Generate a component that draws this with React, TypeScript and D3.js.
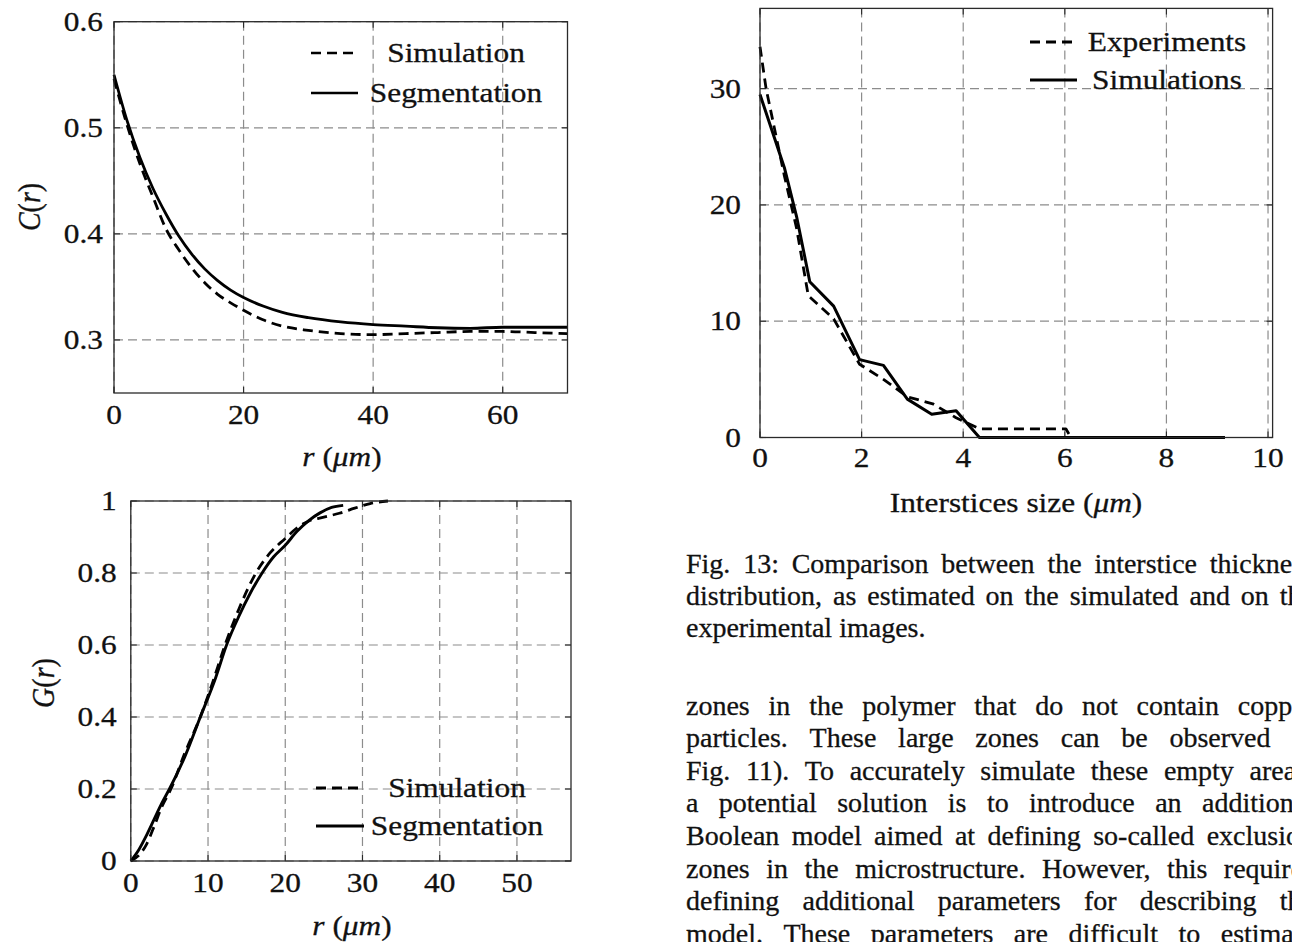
import React, { useEffect, useRef } from 'react';
import * as d3 from 'd3';

// ---------- Two-point correlation C(r) ----------
const corrR = [0, 2, 4, 6, 8, 10, 12, 14, 16, 18, 20, 23, 26, 30, 35, 40, 45, 50, 55, 60, 65, 70];
const corrSimulation = [0.546, 0.503, 0.466, 0.435, 0.405, 0.385, 0.368, 0.354, 0.343, 0.335, 0.328, 0.319, 0.313, 0.309, 0.306, 0.305, 0.306, 0.307, 0.308, 0.308, 0.307, 0.306];
const corrSegmentation = [0.550, 0.507, 0.472, 0.443, 0.419, 0.398, 0.381, 0.367, 0.356, 0.347, 0.340, 0.332, 0.326, 0.321, 0.317, 0.3145, 0.313, 0.3115, 0.311, 0.312, 0.312, 0.312];
const corrXTicks = [0, 20, 40, 60];
const corrYTicks = [0.3, 0.4, 0.5, 0.6];

// ---------- Granulometry G(r) ----------
const gSimR = [0, 1, 2, 3, 4, 5.2, 7, 9, 10.5, 12.2, 14, 16.2, 18, 20, 21.5, 23, 25, 27, 29, 31, 33.3];
const gSim = [0, 0.015, 0.045, 0.095, 0.15, 0.2, 0.3, 0.4, 0.49, 0.6, 0.7, 0.8, 0.855, 0.896, 0.925, 0.944, 0.955, 0.966, 0.98, 0.993, 1.0];
const gSegR = [0, 1, 2, 3, 4, 5, 7, 9, 11, 12.4, 14, 15.5, 17, 18.5, 20, 21.5, 23, 24.5, 26, 27.5];
const gSeg = [0, 0.03, 0.07, 0.115, 0.16, 0.2, 0.29, 0.4, 0.51, 0.6, 0.68, 0.745, 0.8, 0.845, 0.877, 0.915, 0.945, 0.967, 0.982, 0.988];
const gXTicks = [0, 10, 20, 30, 40, 50];
const gYTicks = [0, 0.2, 0.4, 0.6, 0.8, 1];

// ---------- Interstice size distribution ----------
const intExpX = [0, 0.12, 0.48, 0.72, 0.95, 1.45, 1.96, 2.43, 2.9, 3.4, 3.86, 4.32, 6.02, 6.12, 9.15];
const intExp = [33.6, 30, 22.5, 18.0, 12.2, 10.2, 6.3, 5.0, 3.5, 2.9, 1.7, 0.75, 0.75, 0, 0];
const intSimX = [0, 0.48, 0.72, 0.98, 1.45, 1.96, 2.43, 2.9, 3.38, 3.86, 4.32, 9.15];
const intSim = [29.5, 23.2, 19.0, 13.4, 11.3, 6.7, 6.2, 3.3, 2.0, 2.3, 0, 0];
const intXTicks = [0, 2, 4, 6, 8, 10];
const intYTicks = [0, 10, 20, 30];

// ---------- Text ----------
const captionLines = [
  'Fig. 13: Comparison between the interstice thickness',
  'distribution, as estimated on the simulated and on the',
  'experimental images.',
];
const bodyLines = [
  'zones in the polymer that do not contain copper',
  'particles. These large zones can be observed in',
  'Fig. 11). To accurately simulate these empty areas,',
  'a potential solution is to introduce an additional',
  'Boolean model aimed at defining so-called exclusion',
  'zones in the microstructure. However, this requires',
  'defining additional parameters for describing the',
  'model. These parameters are difficult to estimate',
];

const FONT = "'Liberation Serif', 'Times New Roman', Times, serif";
const GRID = '#8c8c8c';
const FRAME = '#2a2a2a';
const TXT = '#111';
const FS = 28;
const SX = 1.12;

function SText({ x, y, anchor, rotate, children }: { x: number; y: number; anchor: 'start' | 'middle' | 'end'; rotate?: boolean; children: React.ReactNode }) {
  const tf = rotate ? `translate(${x},${y}) rotate(-90) scale(1,${SX})` : `translate(${x},${y}) scale(${SX},1)`;
  return (
    <text transform={tf} dy="0.33em" textAnchor={anchor} fontSize={FS} fontFamily={FONT} fill={TXT} stroke={TXT} strokeWidth={0.3}>
      {children}
    </text>
  );
}

type Box = { l: number; r: number; t: number; b: number };
type Series = { xs: number[]; ys: number[]; dashed: boolean; width: number; curve: d3.CurveFactory };
type Legend = { labels: string[]; cx: number; rows: number[]; s0: number; s1: number; dashed: boolean[]; width: number };

function Panel(props: {
  box: Box;
  xDomain: [number, number];
  yDomain: [number, number];
  xTicks: number[];
  yTicks: number[];
  fmtY: (v: number) => string;
  series: Series[];
  legend: Legend;
  yGap: number;
  xTickY: number;
  children?: React.ReactNode;
}) {
  const { box, xDomain, yDomain, xTicks, yTicks, fmtY, series, legend, yGap, xTickY } = props;
  const x = d3.scaleLinear().domain(xDomain).range([box.l, box.r]);
  const y = d3.scaleLinear().domain(yDomain).range([box.b, box.t]);
  const mk = (s: Series) =>
    d3
      .line<number>()
      .x((_, i) => x(s.xs[i]))
      .y((d) => y(d))
      .curve(s.curve)(s.ys) || '';
  return (
    <g>
      {xTicks.map((t) => (
        <line key={'gx' + t} x1={x(t)} x2={x(t)} y1={box.t} y2={box.b} stroke={GRID} strokeWidth={1.2} strokeDasharray="9 5" />
      ))}
      {yTicks.map((t) => (
        <line key={'gy' + t} x1={box.l} x2={box.r} y1={y(t)} y2={y(t)} stroke={GRID} strokeWidth={1.2} strokeDasharray="9 5" />
      ))}
      {xTicks.map((t) => (
        <g key={'tx' + t}>
          <line x1={x(t)} x2={x(t)} y1={box.b} y2={box.b - 6} stroke={FRAME} strokeWidth={1.1} />
          <line x1={x(t)} x2={x(t)} y1={box.t} y2={box.t + 6} stroke={FRAME} strokeWidth={1.1} />
        </g>
      ))}
      {yTicks.map((t) => (
        <g key={'ty' + t}>
          <line x1={box.l} x2={box.l + 6} y1={y(t)} y2={y(t)} stroke={FRAME} strokeWidth={1.1} />
          <line x1={box.r} x2={box.r - 6} y1={y(t)} y2={y(t)} stroke={FRAME} strokeWidth={1.1} />
        </g>
      ))}
      {series.map((s, i) => (
        <path key={'s' + i} d={mk(s)} fill="none" stroke="#000" strokeWidth={s.width} strokeDasharray={s.dashed ? '10 6' : undefined} strokeLinejoin="round" />
      ))}
      <rect x={box.l} y={box.t} width={box.r - box.l} height={box.b - box.t} fill="none" stroke={FRAME} strokeWidth={1.3} />
      {xTicks.map((t) => (
        <SText key={'lx' + t} x={x(t)} y={xTickY} anchor="middle">
          {String(t)}
        </SText>
      ))}
      {yTicks.map((t) => (
        <SText key={'ly' + t} x={box.l - yGap} y={y(t)} anchor="end">
          {fmtY(t)}
        </SText>
      ))}
      {legend.labels.map((lab, i) => (
        <g key={'lg' + i}>
          <line x1={legend.s0} x2={legend.s1} y1={legend.rows[i]} y2={legend.rows[i]} stroke="#000" strokeWidth={legend.width} strokeDasharray={legend.dashed[i] ? '10 6' : undefined} />
          <SText x={legend.cx} y={legend.rows[i]} anchor="middle">
            {lab}
          </SText>
        </g>
      ))}
      {props.children}
    </g>
  );
}

const COL_X = 686;
const BODY_FS = 28;
const COL_W = 628;

function TextLine({ text, y, justify }: { text: string; y: number; justify: boolean }) {
  const words = text.split(' ');
  return (
    <text className={justify ? 'jline' : 'line'} y={y} fontSize={BODY_FS} fontFamily={FONT} fill={TXT} stroke={TXT} strokeWidth={0.3}>
      {words.map((w, i) => (
        <tspan key={i} x={COL_X}>
          {w}
        </tspan>
      ))}
    </text>
  );
}

export default function App() {
  const ref = useRef<SVGSVGElement>(null);
  useEffect(() => {
    document.body.style.margin = '0';
    if (!ref.current) return;
    d3.select(ref.current)
      .selectAll<SVGTextElement, unknown>('text.jline, text.line')
      .each(function () {
        const spans = Array.from(this.querySelectorAll('tspan')) as SVGTSpanElement[];
        const widths = spans.map((s) => s.getComputedTextLength());
        const total = widths.reduce((a, b) => a + b, 0);
        const justify = this.classList.contains('jline');
        const gap = justify && spans.length > 1 ? (COL_W - total) / (spans.length - 1) : BODY_FS * 0.25;
        let cx = COL_X;
        spans.forEach((s, i) => {
          s.setAttribute('x', String(cx));
          cx += widths[i] + gap;
        });
      });
  }, []);

  const it = (s: string) => <tspan fontStyle="italic">{s}</tspan>;

  return (
    <svg ref={ref} width={1292} height={942} style={{ position: 'absolute', left: 0, top: 0, background: '#fff' }}>
      <rect x={0} y={0} width={1292} height={942} fill="#fff" />
      {/* C(r) panel */}
      <Panel
        box={{ l: 114, r: 567.5, t: 21.7, b: 393 }}
        xDomain={[0, 70]}
        yDomain={[0.25, 0.6]}
        xTicks={corrXTicks}
        yTicks={corrYTicks}
        fmtY={(v) => v.toFixed(1)}
        series={[
          { xs: corrR, ys: corrSimulation, dashed: true, width: 2.8, curve: d3.curveMonotoneX },
          { xs: corrR, ys: corrSegmentation, dashed: false, width: 2.8, curve: d3.curveMonotoneX },
        ]}
        legend={{ labels: ['Simulation', 'Segmentation'], cx: 456, rows: [53, 93], s0: 311, s1: 358, dashed: [true, false], width: 2.6 }}
        yGap={11}
        xTickY={415}
      >
        <SText x={342} y={457} anchor="middle">
          {it('r')} ({it('μm')})
        </SText>
        <SText x={30} y={207} anchor="middle" rotate>
          {it('C')}({it('r')})
        </SText>
      </Panel>

      {/* G(r) panel */}
      <Panel
        box={{ l: 130.8, r: 571, t: 501, b: 861 }}
        xDomain={[0, 57]}
        yDomain={[0, 1]}
        xTicks={gXTicks}
        yTicks={gYTicks}
        fmtY={(v) => (v === 0 || v === 1 ? String(v) : v.toFixed(1))}
        series={[
          { xs: gSimR, ys: gSim, dashed: true, width: 2.8, curve: d3.curveMonotoneX },
          { xs: gSegR, ys: gSeg, dashed: false, width: 2.9, curve: d3.curveMonotoneX },
        ]}
        legend={{ labels: ['Simulation', 'Segmentation'], cx: 457, rows: [788, 826], s0: 316, s1: 364, dashed: [true, false], width: 3 }}
        yGap={14}
        xTickY={883}
      >
        <SText x={352} y={926} anchor="middle">
          {it('r')} ({it('μm')})
        </SText>
        <SText x={44} y={683} anchor="middle" rotate>
          {it('G')}({it('r')})
        </SText>
      </Panel>

      {/* Interstice size panel */}
      <Panel
        box={{ l: 760, r: 1272.6, t: 8.4, b: 437.5 }}
        xDomain={[0, 10.09]}
        yDomain={[0, 36.9]}
        xTicks={intXTicks}
        yTicks={intYTicks}
        fmtY={(v) => String(v)}
        series={[
          { xs: intExpX, ys: intExp, dashed: true, width: 2.8, curve: d3.curveLinear },
          { xs: intSimX, ys: intSim, dashed: false, width: 3, curve: d3.curveLinear },
        ]}
        legend={{ labels: ['Experiments', 'Simulations'], cx: 1167, rows: [42, 80], s0: 1030, s1: 1077, dashed: [true, false], width: 3 }}
        yGap={19}
        xTickY={458}
      >
        <SText x={1016} y={503} anchor="middle">
          Interstices size ({it('μm')})
        </SText>
      </Panel>

      {/* Caption and body text */}
      {captionLines.map((t, i) => (
        <TextLine key={'c' + i} text={t} y={573 + i * 32} justify={i < captionLines.length - 1} />
      ))}
      {bodyLines.map((t, i) => (
        <TextLine key={'b' + i} text={t} y={714.5 + i * 32.6} justify={true} />
      ))}
    </svg>
  );
}
